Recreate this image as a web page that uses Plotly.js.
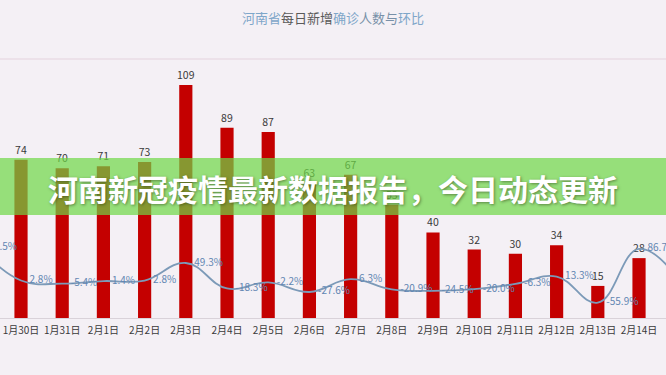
<!DOCTYPE html>
<html>
<head>
<meta charset="utf-8">
<script src="https://cdn.plot.ly/plotly-3.0.1.min.js"></script>
<style>
html,body{margin:0;padding:0;background:#f4f0f5;}
#chart{width:666px;height:375px;}
</style>
</head>
<body>
<div id="chart"></div>
<script>
// Data
const dates = ['1月29日','1月30日','1月31日','2月1日','2月2日','2月3日','2月4日','2月5日','2月6日','2月7日','2月8日','2月9日','2月10日','2月11日','2月12日','2月13日','2月14日','2月15日'];
const newCases = [72,74,70,71,73,109,89,87,63,67,53,40,32,30,34,15,28,28];
const changePct = [89.5,2.8,-5.4,1.4,2.8,49.3,-18.3,-2.2,-27.6,6.3,-20.9,-24.5,-20.0,-6.3,13.3,-55.9,86.7,0.0];
const chartTitle = '<span style="color:#7ea6c9">河南省</span><span style="color:#5a5a5a">每日新增</span><span style="color:#7ea6c9">确诊</span><span style="color:#7890a8">人数与</span><span style="color:#7ea6c9">环比</span>';
const bannerText = '河南新冠疫情最新数据报告，今日动态更新';

const font = '"Noto Sans CJK SC", "Noto Sans", sans-serif';

const bars = {
  type: 'bar',
  x: dates,
  y: newCases,
  marker: {color: '#c40000'},
  text: newCases.map(String),
  textposition: 'outside',
  constraintext: 'none',
  textfont: {size: 10.5, color: '#3a3a3a', family: font},
  cliponaxis: false,
  hoverinfo: 'x+y'
};

const line = {
  type: 'scatter',
  mode: 'lines+markers+text',
  x: dates,
  y: changePct,
  yaxis: 'y2',
  line: {color: '#7c9ab8', width: 1.8, shape: 'spline', smoothing: 1.2},
  marker: {size: 12, color: 'rgba(0,0,0,0)'},
  texttemplate: '%{y:.1f}%',
  textposition: 'middle right',
  textfont: {size: 10, color: '#6286b2', family: font},
  cliponaxis: true
};

const layout = {
  width: 666,
  height: 375,
  margin: {l: 0, r: 0, t: 40, b: 57},
  paper_bgcolor: '#f4f0f5',
  plot_bgcolor: '#f4f0f5',
  showlegend: false,
  bargap: 0.68,
  title: {
    text: chartTitle,
    font: {size: 13, family: font, color: '#7ea6c9'},
    x: 0.5, xanchor: 'center',
    xref: 'paper',
    y: 1 - 18/375, yref: 'container', yanchor: 'middle'
  },
  xaxis: {
    type: 'category',
    range: [0.49, 16.655],
    showgrid: false,
    zeroline: false,
    showline: true,
    linecolor: '#d9d2d9',
    linewidth: 1,
    ticks: '',
    tickfont: {size: 10, color: '#3a3a3a', family: font},
    ticklabelstandoff: 3
  },
  yaxis: {
    range: [0, 130],
    visible: false,
    showgrid: false,
    zeroline: false
  },
  yaxis2: {
    range: [-96.6, 640.8],
    overlaying: 'y',
    side: 'right',
    visible: false,
    showgrid: false,
    zeroline: false
  },
  shapes: [
    {type: 'line', xref: 'paper', yref: 'paper', x0: 0, x1: 1,
     y0: (318-59)/278, y1: (318-59)/278,
     line: {color: '#eadce5', width: 1.5}, layer: 'below'},
    {type: 'rect', xref: 'paper', yref: 'paper', x0: 0, x1: 1,
     y0: (318-215)/278, y1: (318-158)/278,
     fillcolor: 'rgba(110,215,70,0.70)', line: {width: 0}, layer: 'above'}
  ],
  annotations: [
    {xref: 'paper', yref: 'paper', x: 0.5, y: (318-188)/278,
     xanchor: 'center', yanchor: 'middle', showarrow: false,
     text: bannerText,
     font: {size: 30, color: '#ffffff', family: font, weight: 'bold',
            shadow: '1px 1px 3px rgba(40,60,20,0.55)'}}
  ]
};

Plotly.newPlot('chart', [bars, line], layout, {displayModeBar: false, staticPlot: true});
</script>
</body>
</html>
